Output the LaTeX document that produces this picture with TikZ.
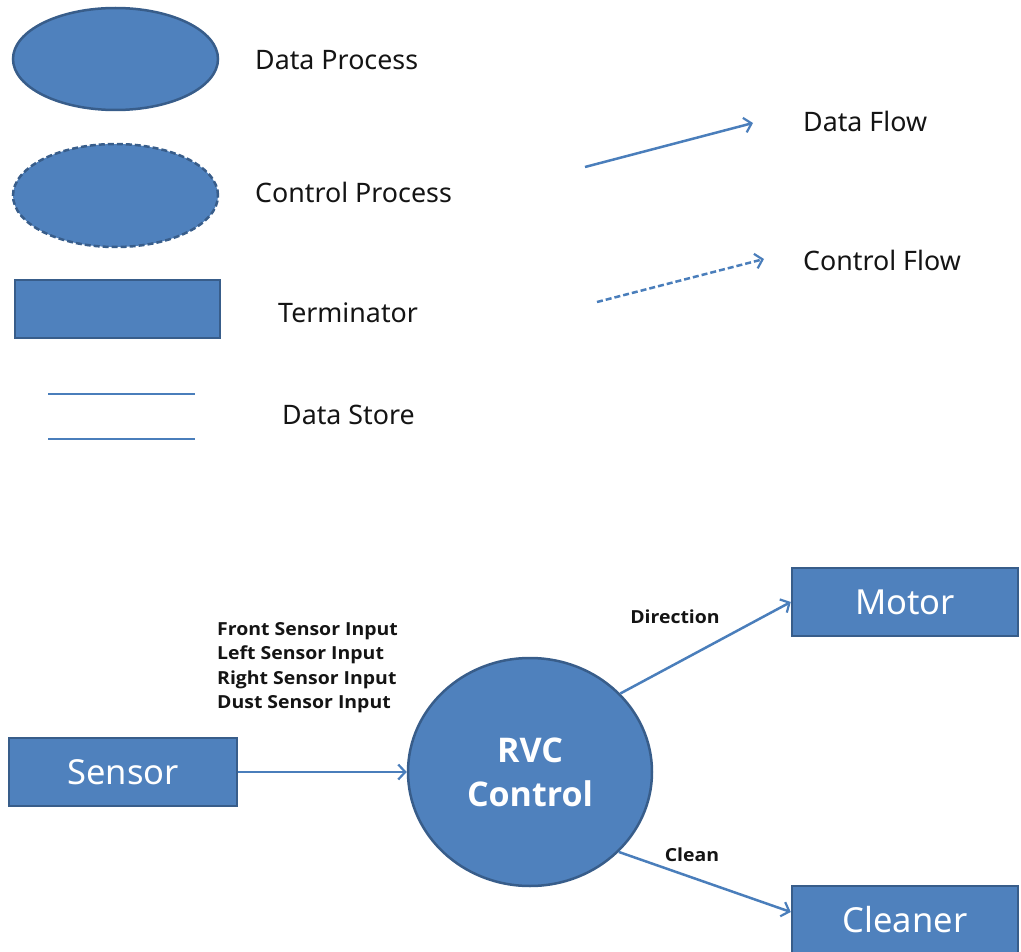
\documentclass[tikz,border=0pt]{standalone}
\usepackage{fontspec}
\setmainfont{Noto Sans}
\newfontfamily\lblfont{Open Sans}[FakeStretch=1.08]
\newfontfamily\rvcfont{Open Sans}
\usetikzlibrary{arrows.meta,shapes.geometric}
\definecolor{boxfill}{HTML}{4F81BD}
\definecolor{boxline}{HTML}{385D8A}
\definecolor{flow}{HTML}{4A7EBB}
\definecolor{txt}{HTML}{141414}
\begin{document}
\begin{tikzpicture}[x=1pt,y=-1pt,
  proc/.style={ellipse, fill=boxfill, draw=boxline, line width=2.5pt, inner sep=0pt},
  term/.style={rectangle, fill=boxfill, draw=boxline, line width=2.5pt, inner sep=0pt},
  flowline/.style={draw=flow, line width=2.5pt, -{Straight Barb[length=7pt,width=15pt,line width=2.2pt]}},
  legendtxt/.style={font=\fontsize{26.8}{30}\selectfont, text=txt, anchor=west, inner sep=0pt},
  flowlbl/.style={font=\lblfont\fontsize{18}{24.5}\selectfont\bfseries, text=txt, inner sep=0pt},
  boxtxt/.style={font=\fontsize{34.5}{40}\selectfont, text=white},
]
\useasboundingbox (0,0) rectangle (1021,952);

% ---- legend ----
\node[proc, minimum width=205pt, minimum height=102pt] (dp) at (115.5,59) {};
\node[proc, dashed, dash pattern=on 6pt off 3pt, minimum width=205pt, minimum height=103pt] (cp) at (115.5,195.5) {};
\node[term, minimum width=205pt, minimum height=58pt] (tm) at (117.5,309) {};
\coordinate (ds1a) at (48,394); \coordinate (ds1b) at (195,394);
\coordinate (ds2a) at (48,439); \coordinate (ds2b) at (195,439);
\draw[flow, line width=2.5pt] (ds1a) -- (ds1b);
\draw[flow, line width=2.5pt] (ds2a) -- (ds2b);

\node[legendtxt] (tdp) at (255,60) {Data Process};
\node[legendtxt] (tcp) at (255,192) {Control Process};
\node[legendtxt] (ttm) at (278,313) {Terminator};
\node[legendtxt] (tds) at (282,415) {Data Store};

\coordinate (df1) at (585,167); \coordinate (df2) at (753,123);
\draw[flowline] (df1) -- (df2);
\coordinate (cf1) at (597,302); \coordinate (cf2) at (764,259);
\draw[flowline, dash pattern=on 6pt off 3pt] (cf1) -- (cf2);
\node[legendtxt] (tdf) at (803,121) {Data Flow};
\node[legendtxt] (tcf) at (803,260) {Control Flow};

% ---- diagram ----
\node[term, boxtxt, minimum width=228pt, minimum height=68pt] (sensor) at (123,772) {Sensor};
\node[proc, minimum width=244pt, minimum height=228pt, align=center,
      font=\rvcfont\fontsize{34}{44}\selectfont\bfseries, text=white] (rvc) at (530,772) {RVC\\Control};
\node[term, boxtxt, minimum width=226pt, minimum height=68pt] (motor) at (905,602) {Motor};
\node[term, boxtxt, minimum width=226pt, minimum height=68pt] (cleaner) at (905,920) {Cleaner};

\draw[flowline] (sensor.east) -- (rvc.west);
\draw[flowline] (rvc.41) -- (motor.west);
\draw[flowline] (rvc.-42) -- ([yshift=8pt]cleaner.west);

\node[flowlbl, align=left, anchor=north west] (inputs) at (217,622)
  {Front Sensor Input\\Left Sensor Input\\Right Sensor Input\\Dust Sensor Input};
\node[flowlbl] (ldir) at (675,617) {Direction};
\node[flowlbl] (lcln) at (692,855) {Clean};
\end{tikzpicture}
\end{document}
